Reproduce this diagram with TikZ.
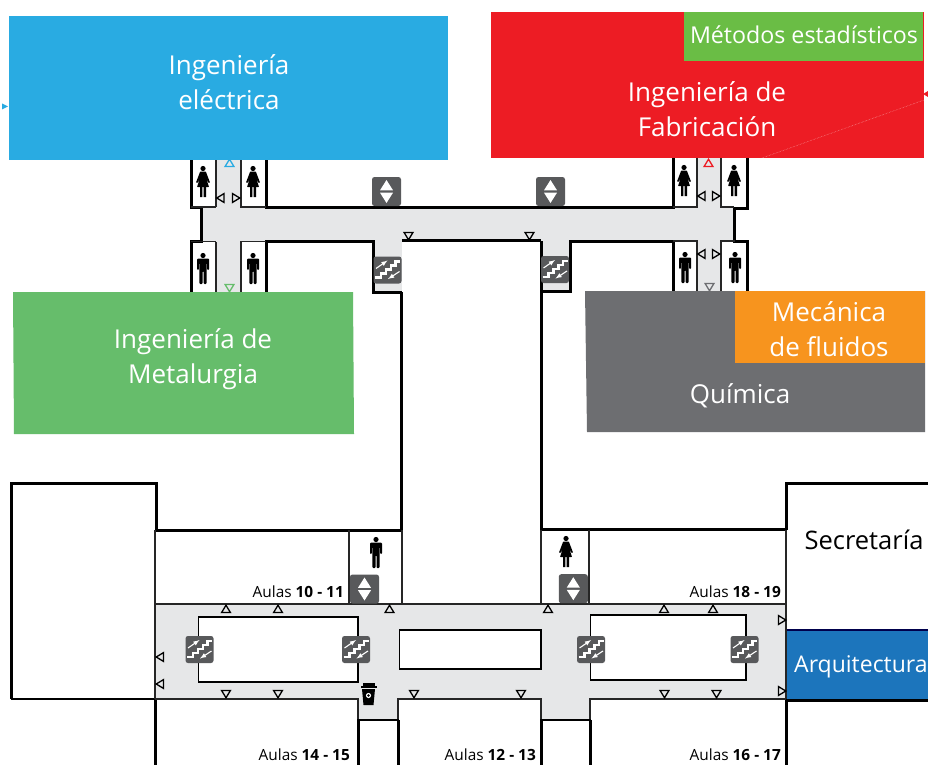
\documentclass[tikz,border=0pt]{standalone}
\usepackage{fontspec}
\setmainfont{Open Sans}
\definecolor{cblue}{HTML}{29ABE2}
\definecolor{cred}{HTML}{ED1C24}
\definecolor{cgreen}{HTML}{66BD6B}
\definecolor{cleaf}{HTML}{6ABD45}
\definecolor{cgrey}{HTML}{6D6E71}
\definecolor{corange}{HTML}{F7941E}
\definecolor{carch}{HTML}{1C75BC}
\definecolor{hall}{HTML}{E6E7E8}
\definecolor{icon}{HTML}{58595B}
\tikzset{
 wall/.style={draw=black,line width=3pt,line cap=butt,line join=miter},
 midwall/.style={draw=black,line width=2.2pt,line cap=butt,line join=miter},
 thinwall/.style={draw=black!85,line width=1.5pt},
 blocktext/.style={text=white,font=\fontsize{26}{35}\selectfont,align=center,inner sep=0pt},
 aula/.style={font=\fontsize{15.4}{18}\selectfont,inner sep=0pt,anchor=east,text=black},
 tri/.style={draw=black,line width=1.3pt,fill=none,line join=miter},
 pics/man/.style={code={
   \fill[black] (0,-12.5) circle (2.6);
   \fill[black,rounded corners=1pt] (-6,-9.5) -- (6,-9.5) -- (6,2) -- (4.2,2) -- (4.2,-5) -- (3.6,-5) -- (3.6,16) -- (.5,16) -- (.5,3) -- (-.5,3) -- (-.5,16) -- (-3.6,16) -- (-3.6,-5) -- (-4.2,-5) -- (-4.2,2) -- (-6,2) -- cycle;
 }},
 pics/woman/.style={code={
   \fill[black] (0,-12.5) circle (2.6);
   \fill[black,rounded corners=.6pt] (-2.8,-9.5) -- (2.8,-9.5) -- (7,1.5) -- (5.5,2) -- (3,-3) -- (6,6) -- (-6,6) -- (-3,-3) -- (-5.5,2) -- (-7,1.5) -- cycle;
   \fill[black] (-3,6) rectangle (-.7,16) (.7,6) rectangle (3,16);
 }},
 pics/lift/.style={code={
   \fill[icon,rounded corners=2.5pt] (-14.5,-14.5) rectangle (14.5,14.5);
   \fill[white] (-6.5,-1.2) -- (6.5,-1.2) -- (0,-11.5) -- cycle;
   \fill[white] (-6.5,1.2) -- (6.5,1.2) -- (0,11.5) -- cycle;
 }},
 pics/stairs/.style={code={
   \fill[icon,rounded corners=2.5pt] (-14,-13.5) rectangle (14,13.5);
   \draw[white,line width=2.8pt,line join=miter] (-12.5,7.5) -- (-6.5,7.5) -- (-6.5,3.5) -- (-1.5,3.5) -- (-1.5,-.5) -- (3.5,-.5) -- (3.5,-4.5) -- (8,-4.5) -- (8,-8.5) -- (12.5,-8.5);
   \draw[white,line width=1.1pt,-latex] (-11.5,-1.5) -- (0,-9.5);
   \draw[white,line width=1.1pt,-latex] (12,1.5) -- (.5,9);
 }},
 pics/coffee/.style={code={
   \fill[black] (-8,-8.5) rectangle (8,-6.5);
   \fill[black] (-6,-11.5) rectangle (6,-8.5);
   \fill[black] (-6.5,-5) -- (6.5,-5) -- (5,11) -- (-5,11) -- cycle;
   \fill[white] (0,1.5) circle (2.6);
   \fill[black] (0,1.5) circle (1.4);
 }},
}
\newcommand{\tup}[3][black]{\draw[tri,draw=#1] (#2-4.4,#3+3.5) -- (#2+4.4,#3+3.5) -- (#2,#3-3.8) -- cycle;}
\newcommand{\tdn}[3][black]{\draw[tri,draw=#1] (#2-4.4,#3-3.5) -- (#2+4.4,#3-3.5) -- (#2,#3+3.8) -- cycle;}
\newcommand{\tlf}[2]{\draw[tri] (#1+3.5,#2-4.4) -- (#1+3.5,#2+4.4) -- (#1-3.8,#2) -- cycle;}
\newcommand{\trt}[2]{\draw[tri] (#1-3.5,#2-4.4) -- (#1-3.5,#2+4.4) -- (#1+3.8,#2) -- cycle;}
\begin{document}
\begin{tikzpicture}[x=1pt,y=-1pt]
\useasboundingbox (0,0) rectangle (928,765);
\fill[white] (0,0) rectangle (928,765);
% ---------- upper corridor floor
\fill[hall] (216,158) rectangle (241,295);
\fill[hall] (201,208) rectangle (735,241);
\fill[hall] (697,158) rectangle (721,295);
\fill[hall] (373,241) rectangle (402,291);
\fill[hall] (541,241) rectangle (570,291);
% upper walls
\draw[wall] (191,158) -- (191,207) -- (201,207) -- (201,241) -- (191,241) -- (191,295);
\draw[wall] (266,158) -- (266,207) -- (673,207) -- (673,158);
\draw[wall] (266,296) -- (266,241) -- (373,241) -- (373,292) -- (402,292);
\draw[wall] (401.7,292) -- (401.7,530);
\draw[midwall] (402,240.5) -- (541,240.5);
\draw[wall] (541,530) -- (541,241);
\draw[wall] (541,291.5) -- (570,291.5) -- (570,241) -- (673,241) -- (673,292);
\draw[wall] (747,158) -- (747,208.5) -- (734.5,208.5) -- (734.5,241) -- (747,241) -- (747,292);
\draw[thinwall] (216,158) -- (216,207);
\draw[thinwall] (241,158) -- (241,207) -- (266,207);
\draw[thinwall] (216,292) -- (216,241.5);
\draw[thinwall] (241,292) -- (241,241.5) -- (266,241.5);
\draw[thinwall] (191,241.5) -- (216,241.5);
\draw[thinwall] (191,207) -- (216,207);
\draw[thinwall] (673,207) -- (697,207) -- (697,158);
\draw[thinwall] (721,158) -- (721,207) -- (734,207);
\draw[thinwall] (673,241) -- (697,241) -- (697,292);
\draw[thinwall] (721,292) -- (721,241) -- (735,241);
% ---------- lower corridor floor
\fill[hall] (156,604) rectangle (786,699);
\fill[hall] (358,699) rectangle (398,719);
\fill[hall] (541,699) rectangle (590,719);
\fill[white,draw=black,line width=1.3pt] (198.5,617) rectangle (358,682);
\fill[white,draw=black,line width=1.3pt] (399.5,630) rectangle (541,669);
\fill[white,draw=black,line width=1.3pt] (590.5,615) rectangle (746,680);
% lower walls
\draw[wall] (155,530) -- (156,530) -- (156,483) -- (11,483) -- (11,699);
\draw[midwall] (11,699) -- (155,699);
\draw[wall] (155,530) -- (402,530);
\draw[wall] (541,529.5) -- (786,529.5);
\draw[wall] (786,530) -- (786,483) -- (928,483);
\draw[thinwall] (155,530) -- (155,699);
\draw[thinwall] (786,530) -- (786,699);
\draw[wall] (155,699) -- (155,765);
\draw[wall] (786,699) -- (786,765);
\draw[thinwall] (155,604) -- (786,604);
\draw[thinwall] (155,699) -- (358,699) -- (358,720);
\draw[thinwall] (398,720) -- (398,699) -- (541,699) -- (541,720);
\draw[thinwall] (590,720) -- (590,699) -- (786,699);
\draw[midwall] (357,720) -- (399,720);
\draw[midwall] (540,720) -- (591,720);
\draw[wall] (358,720) -- (358,765) (398,720) -- (398,765) (541,720) -- (541,765) (590,720) -- (590,765);
\draw[thinwall] (349,530) -- (349,604);
\draw[thinwall] (402,530) -- (402,604);
\draw[thinwall] (541,530) -- (541,604);
\draw[thinwall] (589,530) -- (589,604);
% ---------- coloured blocks
\fill[cblue] (9,16) rectangle (448,160);
\node[blocktext] (elec) at (229,82.5) {Ingeniería\\eléctrica};
\fill[cred] (491,12) rectangle (924,158);
\draw[white,opacity=.55,line width=.5pt,densely dotted] (762,158) -- (924,100);
\fill[cleaf] (684,12) rectangle (923,61);
\node[blocktext,font=\fontsize{23.2}{26}\selectfont] (metodos) at (804,35) {Métodos estadísticos};
\node[blocktext] (fab) at (707,109) {Ingeniería de\\Fabricación};
\fill[cgreen] (13,292) -- (353,292) -- (354,434) -- (14,434) -- cycle;
\node[blocktext] (meta) at (193,359.5) {Ingeniería de\\Metalurgia};
\fill[cgrey] (585,291) -- (925,291) -- (925,432) -- (587,432) -- cycle;
\fill[corange] (735,291) rectangle (925,363);
\node[blocktext] (meca) at (829,329) {Mecánica\\de fluidos};
\node[blocktext] (quim) at (740,396) {Química};
\fill[carch] (787,630) rectangle (928,699);
\draw[black!70!blue,line width=1.2pt] (787,630) -- (928,630);
\draw[wall] (787,700) -- (928,700);
\node[blocktext,font=\fontsize{23}{26}\selectfont,anchor=west] (arq) at (794,666.5) {Arquitectura};
\node[font=\fontsize{25.5}{28}\selectfont,inner sep=0pt,text=black] (secre) at (864,540) {Secretaría};
% ---------- edge marks
\fill[cblue] (2,103.5) -- (8,106.5) -- (2,109.5) -- cycle;
\fill[cred] (928,91) -- (923,94) -- (928,97) -- cycle;
% ---------- triangles
\tup[cblue]{229.5}{163} \tdn[cgreen]{229.5}{288} \tup[cred]{708.5}{163} \tdn[cgrey]{709.5}{287}
\tlf{220.5}{198} \trt{236}{198}
\tlf{701.5}{196} \trt{716}{196} \tlf{701.5}{254} \trt{716}{254}
\tdn{408.5}{236} \tdn{529.5}{236}
\tup{226}{609} \tup{278}{609} \tup{389.5}{609} \tup{548}{609} \tup{664}{609} \tup{713}{609}
\tdn{226}{694} \tdn{278}{694} \tdn{414}{694} \tdn{521}{694} \tdn{664.5}{694} \tdn{716.5}{694}
\tlf{160}{657} \tlf{160}{684} \trt{782}{620} \trt{782}{691}
% ---------- icons
\pic at (203,181) {woman}; \pic at (253,181) {woman};
\pic at (203,268) {man}; \pic at (253,268) {man};
\pic at (684,180) {woman}; \pic at (734,180) {woman};
\pic at (685,267) {man}; \pic at (735,267) {man};
\pic at (376,552) {man}; \pic at (566,551) {woman};
\pic at (386.5,191.5) {lift}; \pic at (550.5,191.5) {lift};
\pic at (364.5,589) {lift}; \pic at (573.3,588.7) {lift};
\pic at (387.5,270) {stairs}; \pic at (555,269.5) {stairs};
\pic at (199.5,649.5) {stairs}; \pic at (356,649.5) {stairs};
\pic at (591,649.5) {stairs}; \pic at (744.5,649.5) {stairs};
\pic at (368.5,694) {coffee};
% ---------- labels
\node[aula] (a1011) at (344,592) {Aulas \textbf{10 - 11}};
\node[aula] (a1415) at (350,755) {Aulas \textbf{14 - 15}};
\node[aula] (a1213) at (536,755) {Aulas \textbf{12 - 13}};
\node[aula] (a1617) at (781,755) {Aulas \textbf{16 - 17}};
\node[aula] (a1819) at (781,592) {Aulas \textbf{18 - 19}};
\end{tikzpicture}
\end{document}
